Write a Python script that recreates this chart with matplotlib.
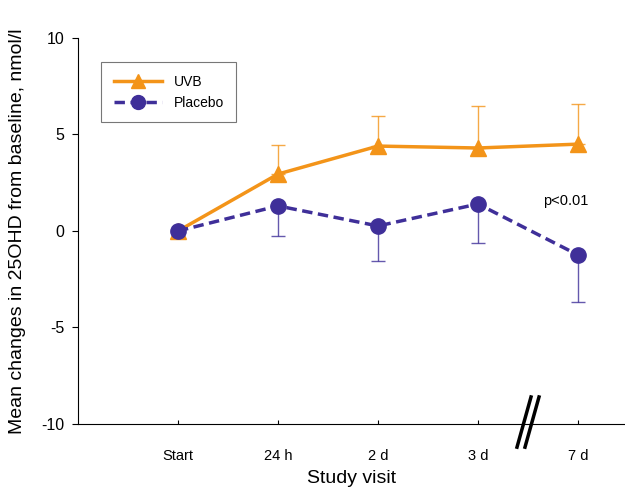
import numpy as np
import matplotlib
matplotlib.use("Agg")
import matplotlib.pyplot as plt
from matplotlib.lines import Line2D

plt.rcParams['font.family'] = ['Liberation Sans', 'DejaVu Sans']

visits = ['Start', '24 h', '2 d', '3 d', '7 d']
uvb = [0.0, 2.95, 4.4, 4.3, 4.5]
uvb_err = [0.0, 1.5, 1.55, 2.2, 2.1]
placebo = [0.0, 1.3, 0.26, 1.4, -1.24]
placebo_err = [0.0, 1.56, 1.8, 2.0, 2.45]
yticks = [-10, -5, 0, 5, 10]

orange = '#F39419'
purple = '#3F2F99'

fig = plt.figure(figsize=(6.25, 4.94), dpi=100)
ax = fig.add_axes([0.1248, 0.1417, 0.8752, 0.7814])
x = np.arange(len(visits))

# error bars (one-sided)
ax.errorbar(x[1:], uvb[1:], yerr=[np.zeros(4), uvb_err[1:]], fmt='none',
            ecolor=orange, elinewidth=1, capsize=5, capthick=1, alpha=0.8, zorder=2)
ax.errorbar(x[1:], placebo[1:], yerr=[placebo_err[1:], np.zeros(4)], fmt='none',
            ecolor=purple, elinewidth=1, capsize=5, capthick=1, alpha=0.8, zorder=2)

ax.plot(x, uvb, color=orange, lw=2.5, marker='^', ms=11, zorder=3)
ax.plot(x, placebo, color=purple, lw=2.5, ls=(0, (3, 1.6)), marker='o', ms=11, zorder=4)

ax.set_xlim(-1, 4.47)
ax.set_ylim(-10, 10)
ax.set_yticks(yticks)
ax.set_yticklabels([str(t) for t in yticks])
ax.set_xticks(x)
ax.set_xticklabels(visits)
ax.tick_params(axis='x', direction='in', length=3, labelsize=10.5, pad=18)
ax.tick_params(axis='y', direction='out', length=4, labelsize=11.5, pad=6)
for s in ['top', 'right']:
    ax.spines[s].set_visible(False)

ax.set_xlabel('Study visit', fontsize=14, labelpad=5)
ax.set_ylabel('Mean changes in 25OHD from baseline, nmol/l', fontsize=14, labelpad=11)

ax.text(3.65, 1.55, 'p<0.01', fontsize=10.5, va='center')

# axis break marks
for dx in [0, 0.08]:
    ax.plot([3.39 + dx, 3.53 + dx], [-11.2, -8.6], color='black', lw=2.5, clip_on=False)

handles = [Line2D([], [], color=orange, lw=2.5, marker='^', ms=10),
           Line2D([], [], color=purple, lw=2.5, ls=(0, (3, 1.6)), marker='o', ms=10)]
leg = ax.legend(handles, ['UVB', 'Placebo'], loc='upper left', bbox_to_anchor=(0.03, 0.955),
                fontsize=10, frameon=True, fancybox=False, edgecolor='#555555',
                handlelength=3.5, borderpad=0.9)
leg.get_frame().set_linewidth(0.8)

fig.savefig('out.png', dpi=100)
